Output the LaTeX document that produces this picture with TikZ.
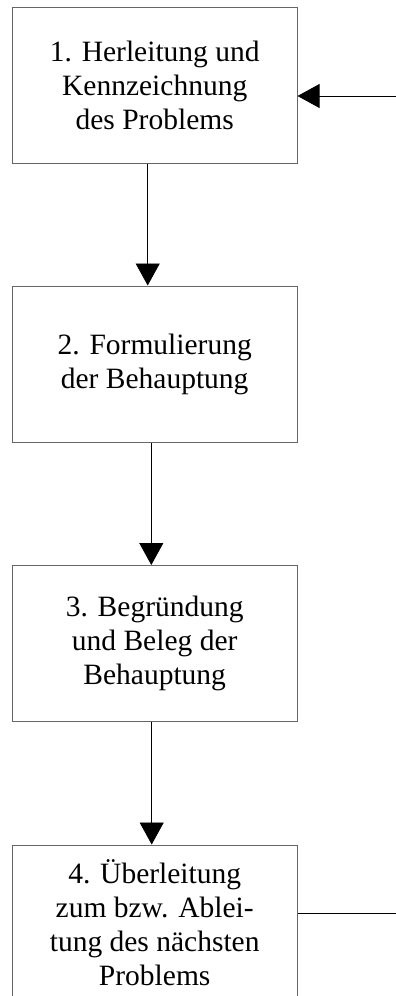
\documentclass[tikz,border=0pt]{standalone}
\usepackage{fontspec}
\setmainfont{Liberation Serif}
\usetikzlibrary{arrows.meta}

\begin{document}
\begin{tikzpicture}[
    x=1pt, y=1pt,
    stage/.style={rectangle, draw=black!60, line width=1pt, minimum width=284.7pt,
        minimum height=156pt, inner sep=0pt, align=center,
        font=\fontsize{29.5}{34}\selectfont},
    arrow/.style={-{Triangle[length=22pt,width=24pt]}, line width=0.8pt}
]
\useasboundingbox (0,0) rectangle (396,-996);

\node[stage] (S1) at (154.7,-85){1. Herleitung und\\Kennzeichnung\\des Problems};
\node[stage] (S2) at (154.7,-364){2. Formulierung\\der Behauptung};
\node[stage] (S3) at (154.7,-643.5){3. Begründung\\und Beleg der\\Behauptung};
\node[stage] (S4) at (154.7,-923){4. Überleitung\\zum bzw. Ablei-\\tung des nächsten\\Problems};

\coordinate (back) at (396,-96);
\coordinate (next) at (396,-913);

\draw[arrow] ([xshift=-7pt]S1.south)--([xshift=-7pt]S2.north);
\draw[arrow] ([xshift=-3.4pt]S2.south)--([xshift=-3.4pt]S3.north);
\draw[arrow] ([xshift=-3pt]S3.south)--([xshift=-3pt]S4.north);

\draw[arrow] (back)--(back -| S1.east);
\draw[line width=0.8pt] (S4.east |- next)--(next);

\end{tikzpicture}
\end{document}
